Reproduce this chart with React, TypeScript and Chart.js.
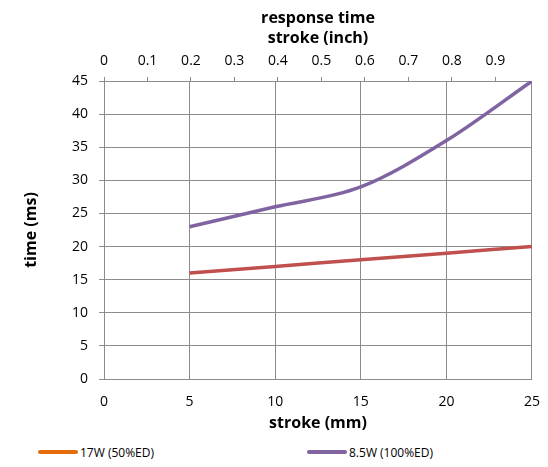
import React, { useEffect, useRef } from "react";
import { Chart, registerables } from "chart.js";

Chart.register(...registerables);

const strokeMm = [5, 10, 15, 20, 25];
const series17W = [16, 17, 18, 19, 20];
const series85W = [23, 26, 29, 36, 45];
const seriesLabels = ["17W (50%ED)", "8.5W (100%ED)"];
const lineColors = ["#C0504D", "#8064A2"];
const legendColors = ["#E46C0A", "#8064A2"];

const FONT = "'Open Sans', 'Liberation Sans', Arial, sans-serif";
const GRID = "#8c8c8c";

export default function App() {
  const ref = useRef<HTMLCanvasElement | null>(null);

  useEffect(() => {
    if (!ref.current) return;
    const chart = new Chart(ref.current, {
      type: "line",
      data: {
        datasets: [
          {
            label: seriesLabels[0],
            data: strokeMm.map((x, i) => ({ x, y: series17W[i] })),
            borderColor: lineColors[0],
            backgroundColor: lineColors[0],
            borderWidth: 3.5,
            pointRadius: 0,
            tension: 0.4,
            xAxisID: "x",
          },
          {
            label: seriesLabels[1],
            data: strokeMm.map((x, i) => ({ x, y: series85W[i] })),
            borderColor: lineColors[1],
            backgroundColor: lineColors[1],
            borderWidth: 3.5,
            pointRadius: 0,
            cubicInterpolationMode: "monotone",
            xAxisID: "x",
          },
        ],
      },
      options: {
        animation: false,
        responsive: false,
        maintainAspectRatio: false,
        layout: { padding: { right: 8, left: 0, top: 0, bottom: 0 } },
        plugins: {
          legend: { display: false },
          tooltip: { enabled: false },
          title: { display: false },
        },
        scales: {
          x: {
            type: "linear",
            position: "bottom",
            min: 0,
            max: 25,
            ticks: {
              stepSize: 5,
              color: "#000",
              font: { family: FONT, size: 14 },
              padding: 0,
            },
            grid: {
              color: GRID,
              lineWidth: 1,
              drawTicks: true,
              tickLength: 15,
              tickColor: "rgba(0,0,0,0)",
            },
            border: { color: GRID, width: 1 },
            title: {
              display: true,
              text: "stroke (mm)",
              color: "#000",
              font: { family: FONT, size: 16, weight: "bold", lineHeight: 1.2 },
              padding: { top: 0, bottom: 5 },
            },
            afterFit: (s: any) => {
              s.height = 59;
            },
          },
          xTop: {
            type: "linear",
            position: "top",
            min: 0,
            max: 25 / 25.4,
            ticks: {
              stepSize: 0.1,
              includeBounds: false,
              color: "#000",
              font: { family: FONT, size: 14 },
              padding: 8,
              callback: (v: any) => String(Number(Number(v).toFixed(1))),
            },
            grid: {
              display: true,
              drawOnChartArea: false,
              drawTicks: true,
              tickLength: 4,
              color: GRID,
            },
            border: { color: GRID, width: 1 },
            title: {
              display: true,
              text: ["response time", "stroke (inch)"],
              color: "#000",
              font: { family: FONT, size: 16, weight: "bold", lineHeight: 1.25 },
              padding: { top: 0, bottom: 0 },
            },
            afterFit: (s: any) => {
              s.height = 73;
            },
          },
          y: {
            type: "linear",
            min: 0,
            max: 45,
            ticks: {
              stepSize: 5,
              color: "#000",
              font: { family: FONT, size: 14 },
              padding: 11,
            },
            grid: { color: GRID, lineWidth: 1, tickLength: 5 },
            border: { color: GRID, width: 1 },
            title: {
              display: true,
              text: "time (ms)",
              color: "#000",
              font: { family: FONT, size: 16, weight: "bold", lineHeight: 1.2 },
              padding: { top: 14, bottom: 0 },
            },
            afterFit: (s: any) => {
              s.width = 96;
            },
          },
        },
      },
    });
    return () => chart.destroy();
  }, []);

  const legendItem = (i: number, left: number) => (
    <div
      key={i}
      style={{
        position: "absolute",
        left,
        top: 436,
        height: 16,
        display: "flex",
        alignItems: "center",
        fontFamily: FONT,
        fontSize: 12,
        color: "#000",
        whiteSpace: "nowrap",
      }}
    >
      <span
        style={{
          display: "inline-block",
          width: 40,
          height: 4,
          borderRadius: 2,
          background: legendColors[i],
          marginRight: 2,
        }}
      />
      {seriesLabels[i]}
    </div>
  );

  return (
    <div style={{ position: "relative", width: 532, height: 451 }}>
      <canvas ref={ref} width={532} height={430} style={{ display: "block", width: 532, height: 430 }} />
      {legendItem(0, 30)}
      {legendItem(1, 299)}
    </div>
  );
}
